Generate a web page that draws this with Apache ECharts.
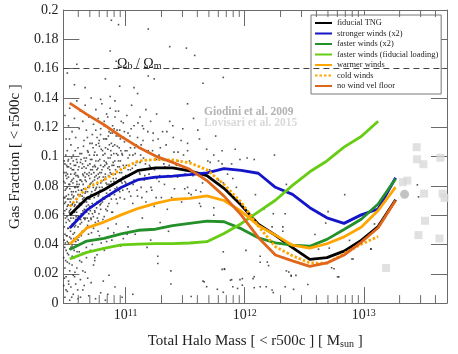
<!DOCTYPE html>
<html>
<head>
<meta charset="utf-8">
<script src="https://cdn.jsdelivr.net/npm/echarts@6/dist/echarts.min.js"></script>
<style>
  html, body { margin: 0; padding: 0; background: #fff; }
  #chart { width: 458px; height: 354px; }
</style>
</head>
<body>
<div id="chart"></div>
<script>
// halo mass bins [M_sun]
var massBins = [3.39e10, 4.72e10, 6.58e10, 9.16e10, 1.28e11, 1.78e11, 2.48e11, 3.45e11, 4.81e11, 6.70e11,
  9.33e11, 1.30e12, 1.81e12, 2.52e12, 3.52e12, 4.90e12, 6.82e12, 9.51e12, 1.32e13, 1.85e13];

// median gas fractions per model
var fiducialTNG = [0.0602, 0.0716, 0.0773, 0.0843, 0.0906, 0.0923, 0.0923, 0.0903, 0.0870, 0.0783,
  0.0669, 0.0538, 0.0463, 0.0379, 0.0298, 0.0310, 0.0355, 0.0428, 0.0522, 0.0705];
var strongerWinds = [0.0512, 0.0635, 0.0716, 0.0789, 0.0843, 0.0860, 0.0866, 0.0876, 0.0888, 0.0918,
  0.0905, 0.0886, 0.0790, 0.0742, 0.0651, 0.0582, 0.0544, 0.0602, 0.0642, 0.0855];
var fasterWinds = [0.0366, 0.0423, 0.0441, 0.0473, 0.0497, 0.0504, 0.0528, 0.0544, 0.0560, 0.0555,
  0.0508, 0.0446, 0.0411, 0.0395, 0.0388, 0.0435, 0.0502, 0.0572, 0.0676, 0.0849];
var fasterWindsFid = [0.0301, 0.0346, 0.0373, 0.0397, 0.0403, 0.0406, 0.0406, 0.0410, 0.0419, 0.0475,
  0.0542, 0.0622, 0.0702, 0.0803, 0.0896, 0.0970, 0.1064, 0.1137, 0.1241];
var warmerWinds = [0.0401, 0.0513, 0.0553, 0.0602, 0.0647, 0.0680, 0.0707, 0.0714, 0.0731, 0.0700,
  0.0627, 0.0530, 0.0464, 0.0395, 0.0375, 0.0405, 0.0452, 0.0518, 0.0632, 0.0791];
var coldWinds = [0.0658, 0.0789, 0.0841, 0.0913, 0.0970, 0.0980, 0.0977, 0.0957, 0.0910, 0.0809,
  0.0689, 0.0525, 0.0385, 0.0323, 0.0274, 0.0272, 0.0338, 0.0401, 0.0455];
var noWindVelFloor = [0.1365, 0.1288, 0.1217, 0.1137, 0.1064, 0.1003, 0.0960, 0.0913, 0.0836, 0.0730,
  0.0602, 0.0448, 0.0328, 0.0288, 0.0251, 0.0274, 0.0328, 0.0415, 0.0514, 0.0700];

// observations
var giodiniM = [2.20e13];
var giodiniF = [0.0742];
var lovisariM = [2.78e13, 2.80e13, 3.17e13, 4.40e13, 2.13e13, 2.32e13, 3.21e13, 4.59e13, 4.77e13, 3.27e13, 2.88e13, 4.32e13, 1.54e13];
var lovisariF = [0.1064, 0.0981, 0.0948, 0.0992, 0.0825, 0.0836, 0.0747, 0.0747, 0.0718, 0.0562, 0.0464, 0.0441, 0.0239];

var omegaRatio = 0.1575;

// individual fiducial halos: [log10 M, f_gas]
var haloDots = [
  [10.88,0.193],[10.94,0.190],[11.19,0.187],[10.87,0.172],[10.92,0.165],[10.59,0.163],[11.37,0.175],[11.51,0.174],
  [11.58,0.169],[11.40,0.160],[11.82,0.154],[11.65,0.150],[10.57,0.149],[10.66,0.147],[10.83,0.153],[10.95,0.148],
  [11.07,0.147],[11.10,0.143],[11.19,0.155],[11.24,0.153],[10.87,0.141],[10.79,0.139],[10.91,0.138],[11.52,0.136],
  [10.51,0.157],
  [10.49,0.128],[10.50,0.112],[10.51,0.104],[10.52,0.121],[10.53,0.133],[10.54,0.108],[10.55,0.117],[10.56,0.101],
  [10.57,0.126],[10.58,0.113],[10.59,0.138],[10.60,0.106],[10.61,0.119],[10.62,0.131],[10.63,0.102],[10.64,0.124],
  [10.65,0.111],[10.66,0.135],[10.67,0.118],[10.68,0.104],[10.69,0.127],[10.70,0.109],[10.71,0.140],[10.72,0.115],
  [10.73,0.122],[10.74,0.103],[10.75,0.132],[10.76,0.113],[10.77,0.126],[10.78,0.107],[10.79,0.119],[10.80,0.136],
  [10.81,0.101],[10.82,0.124],[10.83,0.112],[10.84,0.129],[10.85,0.105],[10.86,0.117],[10.87,0.133],[10.88,0.109],
  [10.89,0.121],[10.90,0.102],[10.91,0.127],[10.92,0.114],[10.93,0.107],[10.94,0.131],[10.95,0.118],[10.96,0.104],
  [10.98,0.123],[10.99,0.110],[11.01,0.128],[11.02,0.116],[11.04,0.106],[11.05,0.135],[11.07,0.121],[11.08,0.102],
  [11.10,0.113],[11.12,0.127],[11.13,0.108],[11.15,0.119],[11.17,0.132],[11.19,0.104],[11.21,0.124],[11.23,0.111],
  [11.26,0.129],[11.28,0.101],[11.31,0.117],[11.34,0.108],[11.37,0.124],[11.40,0.113],[11.44,0.103],[11.48,0.119],
  [11.52,0.109],[11.57,0.126],[11.62,0.112],
  [10.48,0.061],[10.48,0.083],[10.49,0.047],[10.49,0.072],[10.49,0.095],[10.50,0.055],[10.50,0.078],[10.50,0.089],
  [10.51,0.042],[10.51,0.066],[10.51,0.093],[10.52,0.051],[10.52,0.074],[10.52,0.086],[10.52,0.098],[10.53,0.045],
  [10.53,0.063],[10.53,0.081],[10.54,0.058],[10.54,0.071],[10.54,0.092],[10.55,0.039],[10.55,0.067],[10.55,0.084],
  [10.56,0.053],[10.56,0.076],[10.56,0.097],[10.57,0.048],[10.57,0.062],[10.57,0.088],[10.58,0.057],[10.58,0.079],
  [10.58,0.094],[10.59,0.044],[10.59,0.069],[10.59,0.083],[10.60,0.052],[10.60,0.074],[10.60,0.091],
  [10.61,0.059],[10.61,0.081],[10.62,0.047],[10.62,0.068],[10.62,0.096],[10.63,0.055],[10.63,0.077],[10.64,0.088],
  [10.64,0.063],[10.65,0.049],[10.65,0.072],[10.65,0.093],[10.66,0.058],[10.66,0.084],[10.67,0.066],[10.67,0.099],
  [10.68,0.053],[10.68,0.076],[10.69,0.087],[10.69,0.061],[10.70,0.071],[10.70,0.095],[10.71,0.057],[10.71,0.082],
  [10.72,0.066],[10.72,0.091],[10.73,0.074],[10.73,0.051],[10.74,0.086],[10.74,0.063],[10.75,0.078],[10.75,0.097],
  [10.76,0.069],[10.77,0.088],[10.77,0.056],[10.78,0.079],[10.79,0.094],[10.79,0.064],[10.80,0.083],[10.81,0.072],
  [10.82,0.097],[10.82,0.059],[10.83,0.086],[10.84,0.075],[10.85,0.092],[10.85,0.066],[10.86,0.081],[10.87,0.099],
  [10.88,0.071],[10.88,0.088],[10.89,0.062],[10.90,0.094],[10.91,0.078],[10.92,0.085],[10.93,0.068],[10.94,0.097],
  [10.95,0.076],[10.95,0.089],
  [10.97,0.082],[10.98,0.094],[10.99,0.071],[11.00,0.087],[11.02,0.099],[11.03,0.076],[11.04,0.091],[11.06,0.068],
  [11.07,0.084],[11.09,0.096],[11.10,0.073],[11.12,0.088],[11.13,0.079],[11.15,0.099],[11.17,0.069],[11.18,0.085],
  [11.20,0.094],[11.22,0.077],[11.24,0.066],[11.26,0.098],[11.28,0.083],[11.30,0.072],[11.33,0.093],[11.35,0.064],
  [11.38,0.086],[11.41,0.078],[11.44,0.097],[11.47,0.069],[11.50,0.088],[11.53,0.075],
  [11.02,0.052],[11.08,0.047],[11.14,0.058],[11.21,0.043],[11.29,0.055],[11.36,0.049],[11.45,0.041],[10.98,0.044],
  [10.90,0.048],[10.84,0.042],[10.78,0.046],[10.72,0.040],
  [11.52,0.104],[11.68,0.105],[11.74,0.101],[11.81,0.104],[11.92,0.105],[12.25,0.101],[11.69,0.097],[11.71,0.096],
  [11.78,0.097],[11.81,0.095],[11.89,0.095],[11.96,0.098],[12.02,0.099],[12.08,0.098],[11.52,0.079],[11.59,0.077],
  [11.63,0.076],[11.55,0.074],[11.62,0.068],[11.63,0.066],[11.74,0.065],[11.78,0.084],[11.82,0.082],[11.90,0.085],
  [11.93,0.079],[11.74,0.060],[12.09,0.074],[12.16,0.064],[12.24,0.061],[12.34,0.061],[12.35,0.081],[12.32,0.052],
  [12.32,0.049],[12.23,0.052],[11.82,0.035],[12.01,0.036],[12.13,0.032],[12.19,0.028],[12.35,0.022],[12.39,0.019],
  [11.83,0.023],[11.89,0.016],[11.96,0.016],[12.08,0.018],[12.46,0.030],
  [11.66,0.0145],[11.68,0.0112],[11.77,0.0094],[11.82,0.0074],[11.88,0.0156],[11.90,0.0112],[11.94,0.0100],
  [11.98,0.0167],[11.98,0.0122],[12.07,0.0167],[12.08,0.0105],[12.13,0.0112],[12.18,0.0112],[12.23,0.0089],
  [12.24,0.0072],[12.34,0.0112],[12.41,0.0094],[12.53,0.0127],[12.37,0.0212],[12.39,0.0183],[12.43,0.0189],
  [12.13,0.0279],[12.20,0.0256],[11.83,0.0234],[11.55,0.0045],[12.79,0.0179],[12.75,0.0234],[12.90,0.0301],
  [12.84,0.074],[12.70,0.0624],[12.68,0.0546],[12.59,0.0468],[12.88,0.0428],[12.71,0.0375],[12.62,0.0368],
  [12.91,0.0301],[12.73,0.0241],[12.78,0.0179],[13.13,0.0542],[13.06,0.0368],[13.45,0.0807],[13.46,0.0725],
  [13.09,0.054],[13.06,0.037],
  [10.48,0.031],[10.48,0.012],[10.49,0.024],[10.49,0.004],[10.50,0.036],[10.50,0.018],[10.51,0.008],[10.51,0.028],
  [10.52,0.015],[10.52,0.033],[10.53,0.002],[10.53,0.022],[10.54,0.011],[10.54,0.038],[10.55,0.026],[10.56,0.006],
  [10.56,0.019],[10.57,0.031],[10.58,0.013],[10.59,0.024],[10.60,0.003],[10.61,0.035],[10.62,0.016],[10.63,0.028],
  [10.64,0.009],[10.66,0.021],[10.67,0.038],[10.69,0.005],[10.71,0.014],[10.73,0.026],[10.76,0.033],[10.79,0.007],
  [10.83,0.002],[10.86,0.019],[10.91,0.011],[10.97,0.004],[11.06,0.006],[11.18,0.038],[11.27,0.027],[11.38,0.013],
  [10.74,0.029],[11.27,0.032],[10.85,0.006],[11.81,0.023],[11.65,0.015],[11.38,0.022],[10.64,0.022],
  [10.485,0.052],[10.487,0.068],[10.492,0.077],[10.494,0.058],[10.497,0.101],[10.503,0.064],[10.506,0.085],[10.508,0.046],
  [10.513,0.071],[10.516,0.097],[10.518,0.057],[10.523,0.081],[10.526,0.062],[10.528,0.112],[10.534,0.069],[10.537,0.049],
  [10.539,0.088],[10.544,0.076],[10.546,0.099],[10.549,0.061],[10.553,0.054],[10.557,0.082],[10.559,0.072],[10.563,0.091],
  [10.566,0.044],[10.569,0.066],[10.573,0.079],[10.576,0.104],[10.579,0.053],[10.583,0.087],[10.586,0.071],[10.588,0.062],
  [10.593,0.096],[10.596,0.058],[10.598,0.079],[10.603,0.086],[10.606,0.045],[10.608,0.066],[10.613,0.073],[10.616,0.102],
  [10.618,0.054],[10.623,0.084],[10.626,0.061],[10.629,0.077],[10.633,0.092],[10.636,0.049],[10.639,0.071],[10.643,0.081],
  [10.646,0.107],[10.649,0.058],[10.653,0.064],[10.656,0.089],[10.659,0.075],[10.663,0.097],[10.666,0.051],[10.669,0.083],
  [10.673,0.062],[10.676,0.072],[10.679,0.113],[10.683,0.094],[10.686,0.067],[10.689,0.056],[10.693,0.079],[10.696,0.101],
  [10.699,0.085],[10.703,0.063],[10.706,0.091],[10.709,0.074],[10.713,0.048],[10.716,0.098],[10.719,0.068],[10.723,0.083],
  [10.726,0.106],[10.729,0.059],[10.733,0.089],[10.736,0.072],[10.739,0.094],[10.743,0.077],[10.746,0.055],[10.749,0.118],
  [10.753,0.087],[10.756,0.065],[10.759,0.101],[10.763,0.081],[10.766,0.092],[10.769,0.073],[10.773,0.109],[10.776,0.061],
  [10.779,0.086],[10.783,0.098],[10.786,0.077],[10.789,0.115],[10.793,0.068],[10.796,0.089],[10.803,0.079],[10.806,0.104],
  [10.809,0.057],[10.813,0.093],[10.816,0.084],[10.819,0.121],[10.823,0.071],[10.826,0.102],[10.829,0.088],[10.833,0.064],
  [10.836,0.096],[10.839,0.112],[10.843,0.081],[10.846,0.073],[10.849,0.127],[10.853,0.099],[10.856,0.087],[10.859,0.068],
  [10.863,0.108],[10.866,0.091],[10.869,0.077],[10.873,0.116],[10.876,0.083],[10.879,0.101],[10.883,0.062],[10.886,0.094],
  [10.893,0.107],[10.896,0.085],[10.903,0.119],[10.906,0.074],[10.909,0.097],[10.913,0.088],[10.916,0.131],[10.923,0.102],
  [10.926,0.079],[10.933,0.093],[10.936,0.114],[10.943,0.084],[10.946,0.106],[10.953,0.072],[10.956,0.097],[10.963,0.124],
  [10.966,0.089],[10.973,0.101],[10.976,0.077],[10.983,0.113],[10.986,0.092],[10.993,0.083],[10.996,0.104],[11.006,0.094],
  [11.013,0.078],[11.016,0.111],[11.026,0.087],[11.033,0.101],[11.043,0.073],[11.046,0.119],[11.056,0.092],[11.063,0.081],
  [11.076,0.106],[11.083,0.094],[11.096,0.077],[11.103,0.123],[11.116,0.089],[11.126,0.101],[11.136,0.072],[11.146,0.111],
  [11.156,0.084],[11.166,0.095],[11.176,0.076],[11.186,0.117],[11.196,0.088],[11.213,0.079],[11.226,0.104],[11.243,0.091],
  [11.256,0.072],[11.273,0.112],[11.286,0.087],[11.303,0.098],[11.326,0.081],[11.346,0.117],[11.366,0.094],[11.386,0.072],
  [11.406,0.103],[11.436,0.086],[11.466,0.111],[11.496,0.078],[11.536,0.097],[11.566,0.087],[11.606,0.118],[11.646,0.082],
  [11.706,0.091],[11.756,0.114],[11.856,0.088],
  [10.483,0.043],[10.488,0.038],[10.496,0.029],[10.502,0.046],[10.511,0.034],[10.519,0.041],[10.527,0.027],[10.532,0.037],
  [10.541,0.044],[10.551,0.032],[10.558,0.047],[10.567,0.036],[10.574,0.021],[10.581,0.042],[10.592,0.035],[10.601,0.043],
  [10.614,0.029],[10.627,0.046],[10.641,0.034],[10.657,0.042],[10.671,0.031],[10.688,0.047],[10.704,0.036],[10.722,0.043],
  [10.741,0.031],[10.768,0.049],[10.795,0.041],[10.821,0.036],[10.852,0.051],[10.884,0.043],[10.921,0.054],[10.958,0.039],
  [11.012,0.047],[10.486,0.017],[10.499,0.009],[10.521,0.013],[10.547,0.004],[10.571,0.018],[10.597,0.009],[10.621,0.004],
  [10.652,0.012],[10.681,0.017],[10.747,0.003],[10.812,0.015],
  [10.481,0.072],[10.482,0.089],[10.484,0.097],[10.489,0.063],[10.491,0.082],[10.493,0.041],[10.495,0.069],[10.498,0.087],
  [10.501,0.073],[10.504,0.094],[10.507,0.059],[10.509,0.079],[10.512,0.088],[10.514,0.051],[10.517,0.067],[10.521,0.093],
  [10.524,0.071],[10.529,0.056],[10.531,0.078],[10.536,0.095],[10.538,0.064],[10.542,0.083],[10.545,0.052],[10.548,0.074],
  [10.552,0.091],[10.554,0.068],[10.561,0.058],[10.562,0.085],[10.564,0.073],[10.568,0.094],[10.571,0.052],[10.574,0.067],
  [10.578,0.089],[10.581,0.076],[10.584,0.059],[10.587,0.098],[10.591,0.081],[10.594,0.066],[10.597,0.087],[10.602,0.059],
  [10.604,0.077],[10.607,0.093],[10.611,0.068],[10.615,0.084],[10.619,0.074],[10.622,0.057],[10.625,0.098],[10.628,0.067],
  [10.632,0.083],[10.635,0.073],[10.638,0.095],[10.642,0.061],[10.645,0.087],[10.648,0.078],[10.651,0.099],[10.655,0.069],
  [10.658,0.057],[10.661,0.086],[10.664,0.076],[10.668,0.092],[10.672,0.069],[10.675,0.088],[10.678,0.058],[10.682,0.079],
  [10.685,0.103],[10.691,0.071],[10.694,0.089],[10.698,0.066],[10.701,0.081],[10.705,0.098],[10.708,0.058],[10.712,0.088],
  [10.715,0.076],[10.718,0.109],[10.721,0.061],[10.725,0.093],[10.728,0.079],[10.731,0.067],[10.735,0.101],[10.738,0.084],
  [10.742,0.062],[10.745,0.093],[10.748,0.074],[10.752,0.108],[10.755,0.079],[10.758,0.091],[10.762,0.058],[10.765,0.085],
  [10.771,0.097],[10.775,0.074],[10.778,0.111],[10.782,0.089],[10.785,0.067],[10.791,0.082],[10.795,0.105],[10.801,0.091],
  [10.805,0.069],[10.811,0.086],[10.815,0.112],[10.821,0.078],[10.825,0.094],[10.831,0.106],[10.835,0.082],[10.841,0.095],
  [10.845,0.063],[10.851,0.079],[10.855,0.114],[10.861,0.093],[10.865,0.073],[10.871,0.089],[10.875,0.104],[10.881,0.081],
  [10.888,0.116],[10.895,0.096],[10.901,0.083],[10.908,0.108],[10.915,0.091],[10.921,0.071],[10.928,0.118],[10.935,0.101],
  [10.941,0.077],[10.948,0.093],[10.955,0.112],[10.962,0.083],[10.969,0.102],[10.978,0.086],[10.989,0.117],[11.001,0.082],
  [11.011,0.104],[11.021,0.091],[11.036,0.114],[11.049,0.082],[11.061,0.101],[11.071,0.089],[11.089,0.108],[11.106,0.084],
  [11.121,0.096],[11.141,0.121],[11.161,0.087],[11.181,0.103],[11.206,0.093],[11.231,0.116],[11.261,0.085],[11.291,0.106],
  [11.321,0.095],[11.356,0.087],[11.396,0.121],[11.426,0.094],[11.486,0.101]
];

// axis decoration: minor log ticks
var minorTicks = [4e10, 5e10, 6e10, 7e10, 8e10, 9e10, 2e11, 3e11, 4e11, 5e11, 6e11, 7e11, 8e11, 9e11,
  2e12, 3e12, 4e12, 5e12, 6e12, 7e12, 8e12, 9e12, 2e13, 3e13, 4e13];

var serif = 'Liberation Serif';
var axisGray = '#6a6a6a';

function zip(xs, ys) {
  return ys.map(function (y, i) { return [xs[i], y]; });
}

function modelSeries(name, values, color, type) {
  return {
    name: name,
    type: 'line',
    data: zip(massBins, values),
    symbol: 'none',
    z: 3,
    lineStyle: { color: color, width: 2.8, type: type || 'solid', cap: 'butt' },
    itemStyle: { color: color }
  };
}

function frameAxis(extra) {
  var a = {
    splitLine: { show: false },
    axisLine: { show: true, onZero: false, lineStyle: { color: axisGray, width: 1 } },
    axisTick: { show: true, inside: true, length: 16, lineStyle: { color: axisGray, width: 1 } }
  };
  for (var k in extra) a[k] = extra[k];
  return a;
}

var chart = echarts.init(document.getElementById('chart'), null, { renderer: 'canvas' });

var option = {
  animation: false,
  backgroundColor: '#fff',
  textStyle: { fontFamily: serif },
  grid: { left: 54, top: 10, width: 393, height: 300, containLabel: false },
  legend: {
    orient: 'vertical',
    left: 311,
    top: 15,
    padding: [3, 3, 3, 3],
    itemWidth: 17,
    itemHeight: 10,
    itemGap: 0.5,
    borderColor: '#777',
    borderWidth: 1,
    borderRadius: 0,
    backgroundColor: '#fff',
    itemStyle: { opacity: 0 },
    textStyle: { fontFamily: serif, fontSize: 8.4, color: '#222', lineHeight: 10 },
    data: ['fiducial TNG', 'stronger winds (x2)', 'faster winds (x2)', 'faster winds (fiducial loading)',
      'warmer winds', 'cold winds', 'no wind vel floor']
  },
  xAxis: [frameAxis({
    type: 'log',
    logBase: 10,
    min: 3e10,
    max: 5e13,
    position: 'bottom',
    name: '{t|Total Halo Mass [ < r500c ] [ M}{s|sun}{t| ]}',
    nameLocation: 'middle',
    nameGap: 20,
    nameTextStyle: {
      rich: {
        t: { fontFamily: serif, fontSize: 15, color: '#222', lineHeight: 15, verticalAlign: 'top' },
        s: { fontFamily: serif, fontSize: 10, color: '#222', lineHeight: 10, verticalAlign: 'bottom', padding: [12, 0, 0, 0] }
      }
    },
    axisLabel: {
      margin: 5,
      showMinLabel: false,
      showMaxLabel: false,
      formatter: function (v) {
        var p = Math.log10(v);
        if (Math.abs(p - Math.round(p)) > 0.01) return '';
        return '{a|10}{b|' + Math.round(p) + '}';
      },
      rich: {
        a: { fontFamily: serif, fontSize: 14, color: '#222', lineHeight: 14, verticalAlign: 'bottom', padding: [3, 0, 0, 0] },
        b: { fontFamily: serif, fontSize: 10, color: '#222', lineHeight: 10, verticalAlign: 'top' }
      }
    }
  }), frameAxis({
    type: 'log',
    logBase: 10,
    min: 3e10,
    max: 5e13,
    position: 'top',
    axisLabel: { show: false }
  })],
  yAxis: [frameAxis({
    type: 'value',
    min: 0,
    max: 0.2,
    interval: 0.02,
    position: 'left',
    name: 'Gas Fraction [ < r500c ]',
    nameLocation: 'middle',
    nameGap: 30,
    nameTextStyle: { fontFamily: serif, fontSize: 15, color: '#222' },
    axisLabel: { margin: 5, fontFamily: serif, fontSize: 14, color: '#222' }
  }), frameAxis({
    type: 'value',
    min: 0,
    max: 0.2,
    interval: 0.02,
    position: 'right',
    axisLabel: { show: false }
  })],
  graphic: [{
    type: 'text',
    left: 117,
    top: 51,
    style: {
      text: '{o|Ω}{s|b}{o| / Ω}{s|m}',
      rich: {
        o: { fontFamily: serif, fontSize: 14, fill: '#222', lineHeight: 14, verticalAlign: 'top' },
        s: { fontFamily: serif, fontSize: 10, fill: '#222', lineHeight: 10, verticalAlign: 'bottom', padding: [10, 0, 0, 0] }
      }
    }
  }, {
    type: 'text',
    left: 204,
    top: 106,
    style: { text: 'Giodini et al. 2009', font: 'bold 11.5px "Liberation Serif"', fill: '#b3b3b3' }
  }, {
    type: 'text',
    left: 204,
    top: 117,
    style: { text: 'Lovisari et al. 2015', font: 'bold 11.5px "Liberation Serif"', fill: '#d9d9d9' }
  }],
  series: [{
    name: 'halos',
    type: 'scatter',
    data: haloDots.map(function (d) { return [Math.pow(10, d[0]), d[1]]; }),
    symbol: 'rect',
    symbolSize: 1.6,
    itemStyle: { color: '#262626' },
    silent: true,
    z: 1,
    markLine: {
      silent: true,
      symbol: 'none',
      label: { show: false },
      lineStyle: { color: '#444', width: 1, type: [6, 4] },
      data: [{ yAxis: omegaRatio }]
    }
  }, {
    name: 'minor ticks',
    type: 'custom',
    data: minorTicks.map(function (m) { return [m, 0]; }),
    silent: true,
    z: 5,
    renderItem: function (params, api) {
      var b = api.coord([api.value(0), 0]);
      var t = api.coord([api.value(0), 0.2]);
      return {
        type: 'group',
        children: [
          { type: 'line', shape: { x1: b[0], y1: b[1], x2: b[0], y2: b[1] - 8 }, style: { stroke: axisGray, lineWidth: 1 } },
          { type: 'line', shape: { x1: t[0], y1: t[1], x2: t[0], y2: t[1] + 7 }, style: { stroke: axisGray, lineWidth: 1 } }
        ]
      };
    }
  }, {
    name: 'Lovisari et al. 2015',
    type: 'scatter',
    data: zip(lovisariM, lovisariF),
    symbol: 'rect',
    symbolSize: 8,
    itemStyle: { color: '#d9d9d9' },
    z: 2
  }, {
    name: 'Giodini et al. 2009',
    type: 'scatter',
    data: zip(giodiniM, giodiniF),
    symbol: 'circle',
    symbolSize: 9,
    itemStyle: { color: '#b3b3b3' },
    z: 2
  },
    modelSeries('fiducial TNG', fiducialTNG, '#000000'),
    modelSeries('stronger winds (x2)', strongerWinds, '#1414c8'),
    modelSeries('faster winds (x2)', fasterWinds, '#24902a'),
    modelSeries('faster winds (fiducial loading)', fasterWindsFid, '#66cc14'),
    modelSeries('warmer winds', warmerWinds, '#ffa500'),
    modelSeries('cold winds', coldWinds, '#ffa500', [2.5, 2]),
    modelSeries('no wind vel floor', noWindVelFloor, '#e0661c')
  ]
};

chart.setOption(option);
</script>
</body>
</html>
